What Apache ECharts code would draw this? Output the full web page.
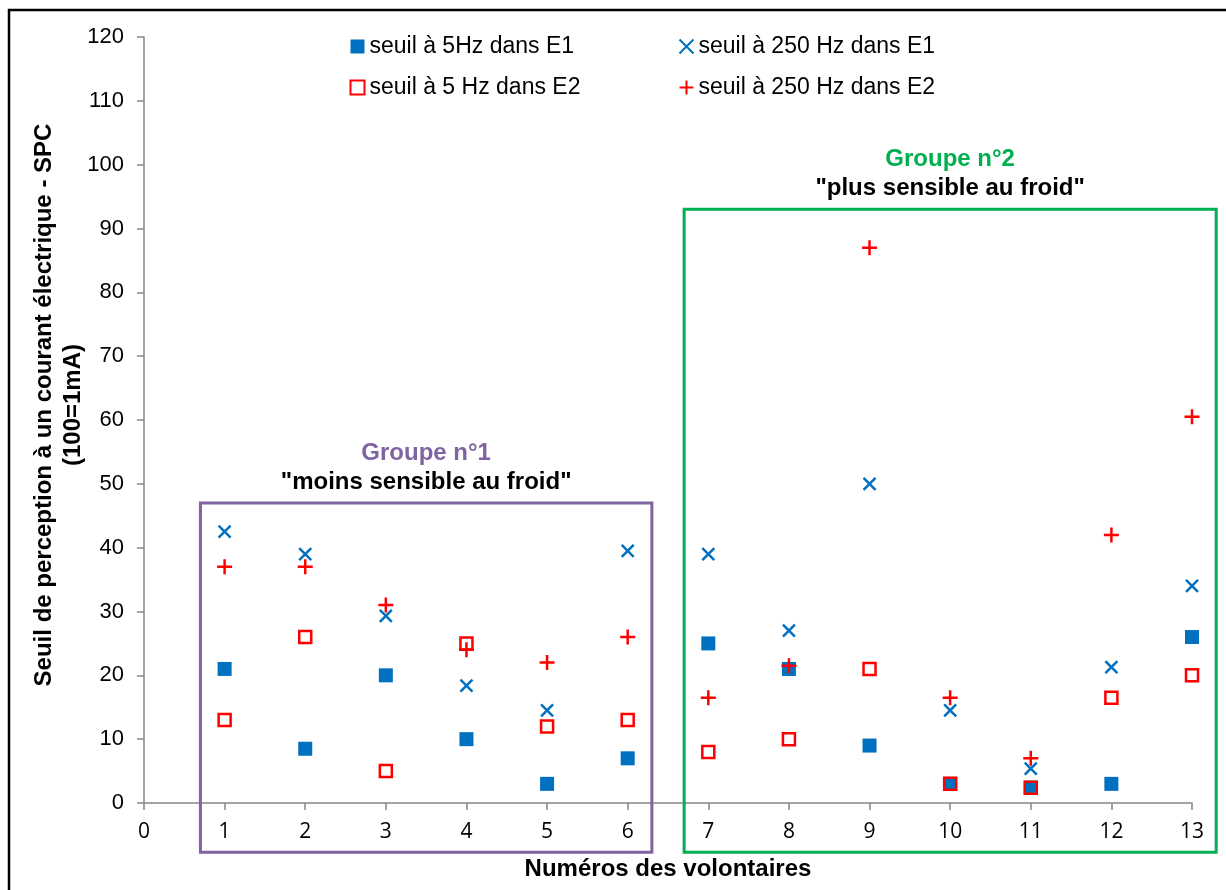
<!DOCTYPE html>
<html>
<head>
<meta charset="utf-8">
<script src="https://cdn.jsdelivr.net/npm/echarts@6/dist/echarts.min.js"></script>
<style>
  html, body { margin: 0; padding: 0; background: #fff; }
  #chart { width: 1226px; height: 890px; }
</style>
</head>
<body>
<div id="chart"></div>
<script>
// volontaires 1..13
const volontaires = [1, 2, 3, 4, 5, 6, 7, 8, 9, 10, 11, 12, 13]
const seuil5HzE1 = [21, 8.5, 20, 10, 3, 7, 25, 21, 9, 3, 2.4, 3, 26]
const seuil250HzE1 = [42.5, 39, 29.3, 18.4, 14.5, 39.5, 39, 27, 50, 14.5, 5.4, 21.3, 34]
const seuil5HzE2 = [13, 26, 5, 25, 12, 13, 8, 10, 21, 3, 2.4, 16.5, 20]
const seuil250HzE2 = [37, 37, 31, 24, 22, 26, 16.5, 21.5, 87, 16.5, 7, 42, 60.5]

const seriesNames = [
  'seuil à 5Hz dans E1',
  'seuil à 250 Hz dans E1',
  'seuil à 5 Hz dans E2',
  'seuil à 250 Hz dans E2'
]

const BLUE = '#0070C0'
const RED = '#FF0000'
const PURPLE = '#8064A2'
const GREEN = '#00B050'
const FONT = 'Liberation Sans, Arial, sans-serif'

const pairs = (ys) => volontaires.map((x, i) => [x, ys[i]])

const chart = echarts.init(document.getElementById('chart'))

const legendText = { fontFamily: FONT, fontSize: 23, color: '#000' }

const option = {
  animation: false,
  backgroundColor: '#fff',
  grid: { left: 144, right: 34, top: 37, bottom: 87 },
  legend: [
    {
      data: [seriesNames[0], seriesNames[2]],
      orient: 'vertical',
      left: 343, top: 30,
      itemWidth: 14, itemHeight: 14, itemGap: 18,
      textStyle: legendText
    },
    {
      data: [seriesNames[1], seriesNames[3]],
      orient: 'vertical',
      left: 672, top: 30,
      itemWidth: 14, itemHeight: 14, itemGap: 18,
      textStyle: legendText
    }
  ],
  xAxis: {
    type: 'value', min: 0, max: 13, interval: 1,
    name: 'Numéros des volontaires',
    nameLocation: 'middle', nameGap: 54,
    nameTextStyle: { fontFamily: FONT, fontSize: 24, fontWeight: 'bold', color: '#000' },
    axisLine: { onZero: false, lineStyle: { color: '#868686', width: 1.5 } },
    axisTick: { show: true, length: 7, lineStyle: { color: '#868686', width: 1.5 } },
    axisLabel: { margin: 19, fontFamily: 'Open Sans, ' + FONT, fontSize: 21, color: '#000' },
    splitLine: { show: false }
  },
  yAxis: {
    type: 'value', min: 0, max: 120, interval: 10,
    axisLine: { show: true, lineStyle: { color: '#868686', width: 1.5 } },
    axisTick: { show: true, length: 7, lineStyle: { color: '#868686', width: 1.5 } },
    axisLabel: { margin: 20, fontFamily: FONT, fontSize: 22, color: '#000' },
    splitLine: { show: false }
  },
  series: [
    {
      name: seriesNames[0], type: 'scatter', symbol: 'rect', symbolSize: 14,
      itemStyle: { color: BLUE, opacity: 1 },
      data: pairs(seuil5HzE1), z: 3
    },
    {
      name: seriesNames[1], type: 'scatter',
      symbol: 'path://M0,0L10,10M0,10L10,0', symbolSize: 12,
      itemStyle: { color: 'none', borderColor: BLUE, borderWidth: 2.5, opacity: 1 },
      data: pairs(seuil250HzE1), z: 4
    },
    {
      name: seriesNames[2], type: 'scatter', symbol: 'rect', symbolSize: 12,
      itemStyle: { color: 'none', borderColor: RED, borderWidth: 2.5, opacity: 1 },
      data: pairs(seuil5HzE2), z: 5
    },
    {
      name: seriesNames[3], type: 'scatter',
      symbol: 'path://M5,0L5,10M0,5L10,5', symbolSize: 15,
      itemStyle: { color: 'none', borderColor: RED, borderWidth: 2.5, opacity: 1 },
      data: pairs(seuil250HzE2), z: 6
    }
  ]
}

chart.setOption(option)

// cadres des groupes, placés en coordonnées de données
const px = (x, y) => chart.convertToPixel({ gridIndex: 0 }, [x, y])
const groupBox = (x0, x1, yTop, color, title, subtitle) => {
  const a = px(x0, yTop)
  const b = px(x1, -7.7)
  const cx = (a[0] + b[0]) / 2
  return [
    {
      type: 'rect', z: 1,
      shape: { x: a[0], y: a[1], width: b[0] - a[0], height: b[1] - a[1] },
      style: { fill: 'none', stroke: color, lineWidth: 3 }
    },
    {
      type: 'text', z: 10, x: cx, y: a[1] - 50,
      style: { text: title, fill: color, font: 'bold 24px ' + FONT, align: 'center', verticalAlign: 'middle' }
    },
    {
      type: 'text', z: 10, x: cx, y: a[1] - 21,
      style: { text: subtitle, fill: '#000', font: 'bold 24px ' + FONT, align: 'center', verticalAlign: 'middle' }
    }
  ]
}

chart.setOption({
  graphic: [
    {
      type: 'rect', z: 0,
      shape: { x: 9, y: 10, width: 1240, height: 900 },
      style: { fill: 'none', stroke: '#000', lineWidth: 2.5 }
    },
    {
      // titre de l'axe Y
      type: 'text', z: 10, x: 59, y: 405, rotation: Math.PI / 2,
      style: {
        text: 'Seuil de perception à un courant électrique - SPC\n(100=1mA)',
        fill: '#000', font: 'bold 24px ' + FONT, lineHeight: 29,
        align: 'center', verticalAlign: 'middle'
      }
    },
    ...groupBox(0.7, 6.3, 47, PURPLE, 'Groupe n°1', '"moins sensible au froid"'),
    ...groupBox(6.7, 13.3, 93, GREEN, 'Groupe n°2', '"plus sensible au froid"')
  ]
})

window.addEventListener('resize', () => chart.resize())
</script>
</body>
</html>
